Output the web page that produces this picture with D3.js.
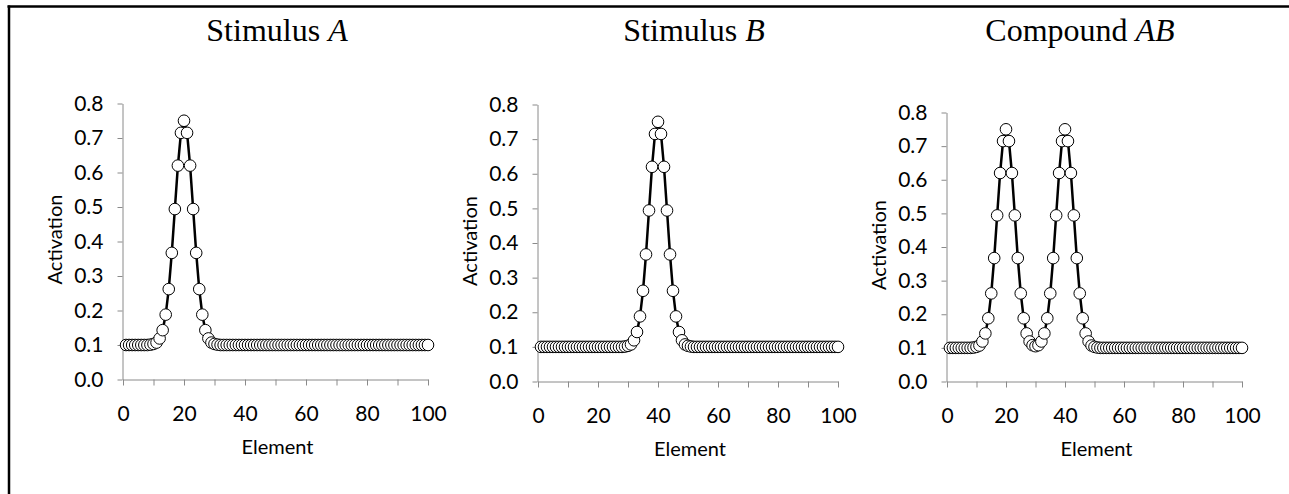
<!DOCTYPE html>
<html>
<head>
<meta charset="utf-8">
<script src="https://cdn.jsdelivr.net/npm/d3@7/dist/d3.min.js"></script>
<style>
  html, body { margin: 0; padding: 0; background: #fff; }
  svg { display: block; }
  .tick text { font-family: Lato, "Open Sans", sans-serif; }
</style>
</head>
<body>
<svg id="chart" width="1289" height="494"></svg>
<script>
// Element index 1..100
const elements = d3.range(1, 101);

// Activation profile for stimulus A (centred on element 20)
const stimulusA = [
  0.1, 0.1, 0.1, 0.1, 0.1, 0.1, 0.1, 0.1, 0.101, 0.103,
  0.107, 0.119, 0.143, 0.188, 0.262, 0.367, 0.494, 0.620, 0.715, 0.750,
  0.715, 0.620, 0.494, 0.367, 0.262, 0.188, 0.143, 0.119, 0.107, 0.103,
  0.101, 0.1, 0.1, 0.1, 0.1, 0.1, 0.1, 0.1, 0.1, 0.1,
  0.1, 0.1, 0.1, 0.1, 0.1, 0.1, 0.1, 0.1, 0.1, 0.1,
  0.1, 0.1, 0.1, 0.1, 0.1, 0.1, 0.1, 0.1, 0.1, 0.1,
  0.1, 0.1, 0.1, 0.1, 0.1, 0.1, 0.1, 0.1, 0.1, 0.1,
  0.1, 0.1, 0.1, 0.1, 0.1, 0.1, 0.1, 0.1, 0.1, 0.1,
  0.1, 0.1, 0.1, 0.1, 0.1, 0.1, 0.1, 0.1, 0.1, 0.1,
  0.1, 0.1, 0.1, 0.1, 0.1, 0.1, 0.1, 0.1, 0.1, 0.1
];

// Activation profile for stimulus B (centred on element 40)
const stimulusB = [
  0.1, 0.1, 0.1, 0.1, 0.1, 0.1, 0.1, 0.1, 0.1, 0.1,
  0.1, 0.1, 0.1, 0.1, 0.1, 0.1, 0.1, 0.1, 0.1, 0.1,
  0.1, 0.1, 0.1, 0.1, 0.1, 0.1, 0.1, 0.1, 0.101, 0.103,
  0.107, 0.119, 0.143, 0.188, 0.262, 0.367, 0.494, 0.620, 0.715, 0.750,
  0.715, 0.620, 0.494, 0.367, 0.262, 0.188, 0.143, 0.119, 0.107, 0.103,
  0.101, 0.1, 0.1, 0.1, 0.1, 0.1, 0.1, 0.1, 0.1, 0.1,
  0.1, 0.1, 0.1, 0.1, 0.1, 0.1, 0.1, 0.1, 0.1, 0.1,
  0.1, 0.1, 0.1, 0.1, 0.1, 0.1, 0.1, 0.1, 0.1, 0.1,
  0.1, 0.1, 0.1, 0.1, 0.1, 0.1, 0.1, 0.1, 0.1, 0.1,
  0.1, 0.1, 0.1, 0.1, 0.1, 0.1, 0.1, 0.1, 0.1, 0.1
];

// Activation profile for the compound AB
const compoundAB = [
  0.1, 0.1, 0.1, 0.1, 0.1, 0.1, 0.1, 0.1, 0.101, 0.103,
  0.107, 0.119, 0.143, 0.188, 0.262, 0.367, 0.494, 0.620, 0.715, 0.750,
  0.715, 0.620, 0.494, 0.367, 0.262, 0.188, 0.143, 0.119, 0.108, 0.105,
  0.108, 0.119, 0.143, 0.188, 0.262, 0.367, 0.494, 0.620, 0.715, 0.750,
  0.715, 0.620, 0.494, 0.367, 0.262, 0.188, 0.143, 0.119, 0.107, 0.103,
  0.101, 0.1, 0.1, 0.1, 0.1, 0.1, 0.1, 0.1, 0.1, 0.1,
  0.1, 0.1, 0.1, 0.1, 0.1, 0.1, 0.1, 0.1, 0.1, 0.1,
  0.1, 0.1, 0.1, 0.1, 0.1, 0.1, 0.1, 0.1, 0.1, 0.1,
  0.1, 0.1, 0.1, 0.1, 0.1, 0.1, 0.1, 0.1, 0.1, 0.1,
  0.1, 0.1, 0.1, 0.1, 0.1, 0.1, 0.1, 0.1, 0.1, 0.1
];

// Axis ticks
const xTicks = [0, 10, 20, 30, 40, 50, 60, 70, 80, 90, 100];
const xTickLabels = [0, 20, 40, 60, 80, 100];
const yTicks = [0, 0.1, 0.2, 0.3, 0.4, 0.5, 0.6, 0.7, 0.8];

const titles = [
  { plain: "Stimulus ", italic: "A" },
  { plain: "Stimulus ", italic: "B" },
  { plain: "Compound ", italic: "AB" }
];
const seriesList = [stimulusA, stimulusB, compoundAB];
const xTitle = "Element";
const yTitle = "Activation";

// Panel layout (pixel boxes of each plot area)
const panels = [
  { x0: 123, x1: 428, yTop: 103.5, yBot: 379.5, titleX: 277 },
  { x0: 538, x1: 838, yTop: 104.5, yBot: 381.5, titleX: 694 },
  { x0: 947, x1: 1242, yTop: 112.5, yBot: 381.5, titleX: 1080 }
];

const svg = d3.select("#chart");
svg.append("rect").attr("width", 1289).attr("height", 494).attr("fill", "#fff");

// Frame lines along the top and left edges
svg.append("line").attr("x1", 7.5).attr("x2", 1289).attr("y1", 6.5).attr("y2", 6.5)
  .attr("stroke", "#000").attr("stroke-width", 2.5);
svg.append("line").attr("x1", 9).attr("x2", 9).attr("y1", 5.5).attr("y2", 494)
  .attr("stroke", "#000").attr("stroke-width", 2.5);

const axisColor = "#8a8a8a";
const sansFont = "Lato, 'Open Sans', sans-serif";
const serifFont = "'Liberation Serif', 'DejaVu Serif', serif";

panels.forEach((p, i) => {
  const values = seriesList[i];
  const x = d3.scaleLinear().domain([0, 100]).range([p.x0, p.x1]);
  const y = d3.scaleLinear().domain([0, 0.8]).range([p.yBot, p.yTop]);
  const g = svg.append("g");

  // Title
  const t = g.append("text")
    .attr("x", p.titleX).attr("y", 41)
    .attr("text-anchor", "middle")
    .attr("font-family", serifFont)
    .attr("font-size", 32)
    .attr("fill", "#000");
  t.append("tspan").text(titles[i].plain);
  t.append("tspan").attr("font-style", "italic").text(titles[i].italic);

  // Y axis
  const yAxis = g.append("g")
    .attr("transform", `translate(${p.x0 - 0.5},0)`)
    .call(d3.axisLeft(y).tickValues(yTicks).tickFormat(d3.format(".1f"))
      .tickSize(5).tickSizeOuter(0).tickPadding(14));
  yAxis.selectAll("path, line").attr("stroke", axisColor);
  yAxis.selectAll("text").attr("font-size", 21).attr("fill", "#000");

  // X axis
  const xAxis = g.append("g")
    .attr("transform", `translate(0,${p.yBot})`)
    .call(d3.axisBottom(x).tickValues(xTicks)
      .tickFormat(d => xTickLabels.includes(d) ? d : "")
      .tickSize(6).tickSizeOuter(0).tickPadding(21));
  xAxis.selectAll("path, line").attr("stroke", axisColor);
  xAxis.selectAll("text").attr("font-size", 21).attr("fill", "#000");

  // Axis titles
  g.append("text")
    .attr("x", (p.x0 + p.x1) / 2 + 2).attr("y", p.yBot + 74)
    .attr("text-anchor", "middle")
    .attr("font-family", sansFont).attr("font-size", 20)
    .text(xTitle);
  g.append("text")
    .attr("transform", `translate(${p.x0 - 61},${(p.yTop + p.yBot) / 2 - 2}) rotate(-90)`)
    .attr("text-anchor", "middle")
    .attr("font-family", sansFont).attr("font-size", 20)
    .text(yTitle);

  // Series line
  const pts = elements.map((e, k) => [e, values[k]]);
  g.append("path")
    .datum(pts)
    .attr("fill", "none")
    .attr("stroke", "#000")
    .attr("stroke-width", 2.5)
    .attr("stroke-linejoin", "round")
    .attr("d", d3.line().x(d => x(d[0])).y(d => y(d[1])));

  // Circle markers
  g.append("g").selectAll("circle")
    .data(pts)
    .join("circle")
    .attr("cx", d => x(d[0]))
    .attr("cy", d => y(d[1]))
    .attr("r", 5.8)
    .attr("fill", "#fff")
    .attr("stroke", "#000")
    .attr("stroke-width", 1);
});
</script>
</body>
</html>
